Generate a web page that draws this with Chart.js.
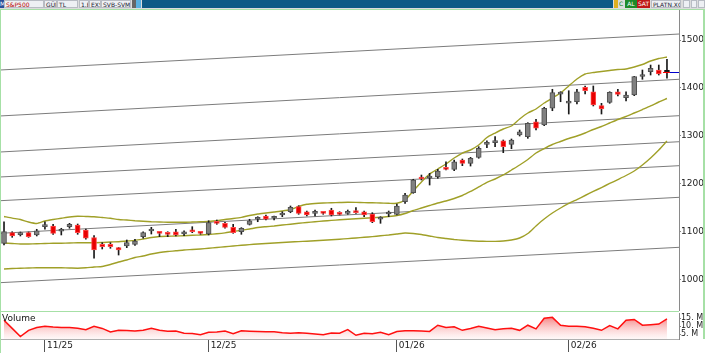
<!DOCTYPE html>
<html>
<head>
<meta charset="utf-8">
<script src="https://cdn.jsdelivr.net/npm/chart.js@4.4.1/dist/chart.umd.min.js"></script>
<style>
  body { margin: 0; background: #fff; font-family: "DejaVu Sans", sans-serif; }
  #wrap { position: relative; width: 705px; height: 353px; overflow: hidden; background: #fff; }
  #hdr { position: absolute; left: 0; top: 0; width: 705px; height: 9px; background: #dcdcdc; font-size: 6px; line-height: 8px; color: #223; }
  #hdr span { position: absolute; top: 0; height: 8px; white-space: nowrap; overflow: hidden; }
  .box { background: #eef0f4; border: 1px solid #b8bcc4; box-sizing: border-box; padding-left: 1px; }
  #main { position: absolute; left: 0; top: 9px; }
  #vol { position: absolute; left: 0; top: 312px; }
  .edge { position: absolute; background: #a6e0a6; }
  #volLabel { position: absolute; left: 2px; top: 313px; font-size: 9px; color: #111; }
</style>
</head>
<body>
<div id="wrap">
  <div id="hdr">
    <span style="left:0;width:4px;background:#2a4f9a;color:#fff">M</span>
    <span class="box" style="left:4px;width:40px;color:#b00">S&amp;P500</span>
    <span class="box" style="left:44px;width:13px">GÜN</span>
    <span class="box" style="left:57px;width:21px">TL</span>
    <span class="box" style="left:79px;width:10px">1.B</span>
    <span class="box" style="left:89px;width:12px">EXS</span>
    <span class="box" style="left:101px;width:30px">SVB-SVM-1MP</span>
    <span style="left:132px;width:4px;background:#666"></span>
    <span style="left:136px;width:5px;background:#5ab0e0"></span>
    <span style="left:142px;width:471px;background:#0d5a86"></span>
    <span style="left:614px;width:4px;background:#e0b020"></span>
    <span style="left:619px;width:5px;color:#080">C</span>
    <span style="left:625px;width:12px;background:#1d8a2a;color:#fff;text-align:center">AL</span>
    <span style="left:637px;width:13px;background:#c01818;color:#fff;text-align:center">SAT</span>
    <span class="box" style="left:651px;width:30px;text-align:center">PLATN.XG</span>
    <span class="box" style="left:683px;width:7px"></span>
    <span class="box" style="left:691px;width:6px"></span>
    <span class="box" style="left:698px;width:7px"></span>
  </div>
  <canvas id="main" width="705" height="302"></canvas>
  <canvas id="vol" width="705" height="41"></canvas>
  <div class="edge" style="left:0;top:9px;width:705px;height:1px"></div>
  <div class="edge" style="left:0;top:9px;width:1px;height:344px"></div>
  <div class="edge" style="left:0;top:311px;width:679px;height:1px"></div>
  <div class="edge" style="left:703px;top:9px;width:2px;height:330px"></div>
  <div id="volLabel">Volume</div>
</div>
<script>
// daily candles
const opens = [10750, 10973, 10931, 10973, 10925, 11098, 11113, 11002, 11098, 11133,
  11029, 10868, 10730, 10730, 10659, 10695, 10730, 10889, 11008, 10993,
  10960, 10993, 10945, 11029, 10993, 10945, 11202, 11169, 11085, 10993,
  11148, 11253, 11322, 11274, 11342, 11411, 11516, 11411, 11378, 11399,
  11447, 11378, 11378, 11426, 11411, 11363, 11253, 11363, 11357, 11620,
  11809, 12130, 12116, 12143, 12331, 12297, 12492, 12423, 12548, 12820,
  12854, 12895, 12820, 13014, 12979, 13292, 13223, 13573, 13870, 13680,
  13710, 14011, 13919, 13627, 13698, 13919, 13794, 13850, 14237, 14337,
  14373, 14325];
const highs = [11200, 10993, 10987, 10987, 11044, 11202, 11148, 11065, 11169, 11154,
  11050, 10910, 10764, 10764, 10665, 10820, 10835, 10993, 11085, 11000,
  10993, 11044, 11014, 11098, 11000, 11223, 11238, 11190, 11148, 11078,
  11253, 11307, 11342, 11322, 11411, 11531, 11537, 11426, 11447, 11411,
  11483, 11411, 11447, 11495, 11426, 11391, 11307, 11426, 11572, 11796,
  12089, 12178, 12214, 12297, 12456, 12491, 12513, 12548, 12770, 12895,
  12979, 12910, 12931, 13119, 13272, 13343, 13594, 13970, 13920, 13940,
  13970, 14039, 14039, 13677, 13919, 13970, 13919, 14241, 14373, 14477,
  14477, 14597];
const lows = [10715, 10876, 10904, 10876, 10904, 11044, 10939, 10925, 11065, 10939,
  10835, 10438, 10632, 10646, 10506, 10659, 10709, 10856, 10945, 10889,
  10889, 10904, 10910, 10973, 10939, 10925, 11148, 11065, 10960, 10939,
  11133, 11202, 11238, 11238, 11307, 11390, 11357, 11322, 11322, 11357,
  11322, 11342, 11357, 11378, 11307, 11182, 11169, 11307, 11342, 11587,
  11796, 12074, 11969, 12109, 12283, 12268, 12373, 12366, 12528, 12749,
  12770, 12645, 12728, 12993, 12945, 13119, 13209, 13522, 13710, 13453,
  13663, 13871, 13621, 13453, 13677, 13829, 13725, 13836, 14179, 14268,
  14268, 14200];
const closes = [10995, 10904, 10960, 10889, 11014, 11127, 10960, 11014, 11148, 10973,
  10856, 10611, 10680, 10680, 10611, 10764, 10799, 10973, 11029, 10960,
  10939, 10925, 10993, 10993, 10960, 11182, 11169, 11085, 10973, 11065,
  11223, 11274, 11253, 11286, 11378, 11503, 11378, 11342, 11391, 11378,
  11342, 11357, 11411, 11391, 11342, 11202, 11294, 11378, 11531, 11760,
  12074, 12095, 12143, 12262, 12297, 12456, 12423, 12528, 12737, 12841,
  12875, 12770, 12910, 13083, 13259, 13155, 13573, 13899, 13890, 13700,
  13919, 13940, 13641, 13558, 13907, 13865, 13850, 14233, 14258, 14409,
  14289, 14325];
// volume in millions
const volumes = [13.6, 8.5, 3.4, 7.3, 9.1, 9.8, 9.3, 9.1, 9.1, 8.6,
  7.7, 9.8, 8.5, 6.3, 7.3, 7.2, 6.9, 7.4, 8.6, 7.3,
  6.7, 6.9, 5.5, 5.3, 4.6, 6.1, 6.2, 6.8, 5.2, 7.0,
  6.7, 6.5, 6.4, 6.4, 5.8, 5.5, 5.8, 5.5, 5.0, 4.6,
  5.6, 5.5, 7.7, 4.2, 5.5, 5.2, 6.1, 4.5, 6.5, 7.1,
  7.0, 6.8, 6.6, 10.5, 9.1, 9.5, 7.3, 8.4, 9.8, 8.8,
  7.7, 8.3, 8.6, 7.3, 10.5, 8.2, 14.8, 15.4, 10.5, 9.8,
  9.9, 9.6, 8.6, 7.3, 10.3, 8.2, 13.6, 14.1, 10.5, 10.8,
  11.2, 14.5];
// bollinger bands
const bbUpper = [11311, 11276, 11248, 11196, 11165, 11217, 11248, 11274, 11301, 11317,
  11311, 11305, 11290, 11274, 11248, 11238, 11223, 11213, 11202, 11196,
  11192, 11190, 11190, 11196, 11202, 11207, 11221, 11248, 11269, 11294,
  11332, 11363, 11384, 11405, 11426, 11457, 11520, 11566, 11583, 11593,
  11600, 11604, 11608, 11606, 11602, 11597, 11593, 11587, 11587, 11656,
  11844, 12032, 12199, 12304, 12408, 12534, 12638, 12701, 12806, 12962,
  13056, 13140, 13203, 13349, 13474, 13558, 13683, 13788, 13892, 14039,
  14185, 14289, 14321, 14342, 14363, 14383, 14394, 14436, 14488, 14561,
  14613, 14645];
const bbMiddle = [10757, 10747, 10736, 10736, 10741, 10747, 10751, 10753, 10757, 10761,
  10764, 10764, 10768, 10778, 10784, 10799, 10813, 10841, 10872, 10893,
  10899, 10904, 10910, 10918, 10924, 10935, 10950, 10970, 10998, 11023,
  11050, 11081, 11098, 11113, 11133, 11150, 11169, 11186, 11200, 11217,
  11230, 11242, 11253, 11263, 11274, 11284, 11297, 11311, 11332, 11374,
  11437, 11489, 11541, 11593, 11635, 11687, 11750, 11834, 11928, 12022,
  12095, 12179, 12283, 12388, 12502, 12638, 12732, 12816, 12879, 12941,
  12994, 13056, 13129, 13192, 13265, 13338, 13401, 13474, 13547, 13621,
  13704, 13777];
const bbLower = [10214, 10224, 10231, 10235, 10239, 10241, 10241, 10239, 10235, 10231,
  10239, 10256, 10266, 10308, 10360, 10402, 10454, 10486, 10527, 10559,
  10580, 10594, 10611, 10621, 10632, 10647, 10663, 10678, 10695, 10709,
  10724, 10736, 10747, 10757, 10768, 10778, 10787, 10795, 10803, 10814,
  10824, 10837, 10849, 10862, 10876, 10891, 10908, 10924, 10945, 10966,
  10956, 10935, 10904, 10872, 10851, 10830, 10814, 10803, 10795, 10791,
  10791, 10799, 10820, 10862, 10956, 11113, 11259, 11384, 11489, 11583,
  11666, 11750, 11834, 11917, 12001, 12084, 12168, 12262, 12388, 12534,
  12701, 12889];
// parallel trend lines: value at left edge and at right edge
const channelStart = [14373, 13412, 12659, 12137, 11641, 10960, 9928];
const channelEnd = [15125, 14179, 13418, 12874, 12373, 11712, 10667];
const monthStarts = [5, 25, 48, 69];
const monthLabels = ['11/25', '12/25', '01/26', '02/26'];
const priceTicks = [10000, 11000, 12000, 13000, 14000, 15000];
const volumeTicks = [5, 10, 15];

const xMin = -0.49, xMax = 82.47;
const last = closes.length - 1;

Chart.defaults.font.family = 'DejaVu Sans';
Chart.defaults.font.size = 9;
Chart.defaults.color = '#222';

const candleColor = i => closes[i] > opens[i] ? '#808080' : (closes[i] < opens[i] ? '#e80000' : '#111');
const candleBorder = i => closes[i] > opens[i] ? '#505050' : (closes[i] < opens[i] ? '#ff4a4a' : '#111');

const channelSets = channelStart.map((v, k) => ({
    type: 'line',
    data: [{ x: xMin, y: v }, { x: xMax, y: channelEnd[k] }],
    borderColor: '#7c7c7c',
    borderWidth: 1,
    pointRadius: 0,
    order: 5
}));

const band = (arr) => ({
    type: 'line',
    data: arr.map((v, i) => ({ x: i, y: v })),
    borderColor: '#a0a028',
    borderWidth: 1.4,
    pointRadius: 0,
    tension: 0.2,
    order: 4
});

const lastPrice = {
    id: 'lastPrice',
    afterDatasetsDraw(chart) {
        const { ctx, chartArea, scales } = chart;
        const y = Math.round(scales.y.getPixelForValue(closes[last])) + 0.5;
        const x = scales.x.getPixelForValue(last);
        ctx.save();
        ctx.lineWidth = 1;
        ctx.strokeStyle = '#ff0000';
        ctx.beginPath(); ctx.moveTo(x - 4, y); ctx.lineTo(x + 3, y); ctx.stroke();
        ctx.strokeStyle = '#0000cc';
        ctx.beginPath(); ctx.moveTo(x + 3, y); ctx.lineTo(chartArea.right, y); ctx.stroke();
        ctx.restore();
    }
};

new Chart(document.getElementById('main'), {
    data: {
        datasets: [
            {
                type: 'bar',
                data: closes.map((c, i) => ({ x: i, y: [opens[i], c] })),
                backgroundColor: closes.map((c, i) => candleColor(i)),
                borderColor: closes.map((c, i) => candleBorder(i)),
                borderWidth: 1,
                borderSkipped: false,
                barThickness: 5,
                minBarLength: 2,
                grouped: false,
                order: 1
            },
            {
                type: 'bar',
                data: highs.map((h, i) => ({ x: i, y: [lows[i], h] })),
                backgroundColor: '#1a1a1a',
                barThickness: 1,
                grouped: false,
                order: 2
            },
            band(bbUpper),
            band(bbMiddle),
            band(bbLower),
            ...channelSets
        ]
    },
    options: {
        responsive: false,
        animation: false,
        events: [],
        layout: { padding: 0 },
        plugins: { legend: { display: false }, tooltip: { enabled: false } },
        scales: {
            x: { type: 'linear', min: xMin, max: xMax, offset: false, grid: { offset: false }, display: false },
            y: {
                position: 'right',
                min: 9336,
                max: 15648,
                afterBuildTicks: s => { s.ticks = priceTicks.map(v => ({ value: v })); },
                afterFit: s => { s.width = 26; s.paddingTop = 0; s.paddingBottom = 0; },
                grid: { drawOnChartArea: false, tickLength: 2, color: '#888' },
                border: { color: '#8a8a8a' },
                ticks: { padding: 0, color: '#222', autoSkip: false, callback: v => String(v) }
            }
        }
    },
    plugins: [lastPrice]
});

new Chart(document.getElementById('vol'), {
    type: 'line',
    data: {
        datasets: [{
            data: volumes.map((v, i) => ({ x: i, y: v })),
            borderColor: '#ff1010',
            borderWidth: 1.5,
            pointRadius: 0,
            fill: 'start',
            backgroundColor: (context) => {
                const area = context.chart.chartArea;
                if (!area) return 'rgba(255,120,120,0.5)';
                const g = context.chart.ctx.createLinearGradient(0, area.top, 0, area.bottom);
                g.addColorStop(0, 'rgba(240,80,80,0.9)');
                g.addColorStop(1, 'rgba(255,235,235,0.35)');
                return g;
            }
        }]
    },
    options: {
        responsive: false,
        animation: false,
        events: [],
        layout: { padding: { top: 1, left: 0, right: 0, bottom: 0 } },
        plugins: { legend: { display: false }, tooltip: { enabled: false } },
        scales: {
            x: {
                type: 'linear',
                min: xMin,
                max: xMax,
                afterBuildTicks: s => { s.ticks = monthStarts.map(v => ({ value: v })); },
                afterFit: s => { s.height = 14; s.paddingLeft = 0; s.paddingRight = 0; },
                grid: { drawOnChartArea: false, drawTicks: true, tickLength: 13, color: '#555' },
                border: { display: true, color: '#b0b0b0' },
                ticks: {
                    autoSkip: false, maxRotation: 0, padding: -12, align: 'start', labelOffset: 2,
                    color: '#222',
                    callback: v => monthLabels[monthStarts.indexOf(v)]
                }
            },
            y: {
                position: 'right',
                min: 1.875,
                max: 18.125,
                afterBuildTicks: s => { s.ticks = volumeTicks.map(v => ({ value: v })); },
                afterFit: s => { s.width = 26; s.paddingTop = 0; s.paddingBottom = 0; },
                grid: { drawOnChartArea: false, tickLength: 2, color: '#888' },
                border: { color: '#8a8a8a' },
                ticks: { padding: 0, color: '#222', autoSkip: false, font: { size: 8 }, callback: v => v + '. M' }
            }
        }
    }
});
</script>
</body>
</html>
